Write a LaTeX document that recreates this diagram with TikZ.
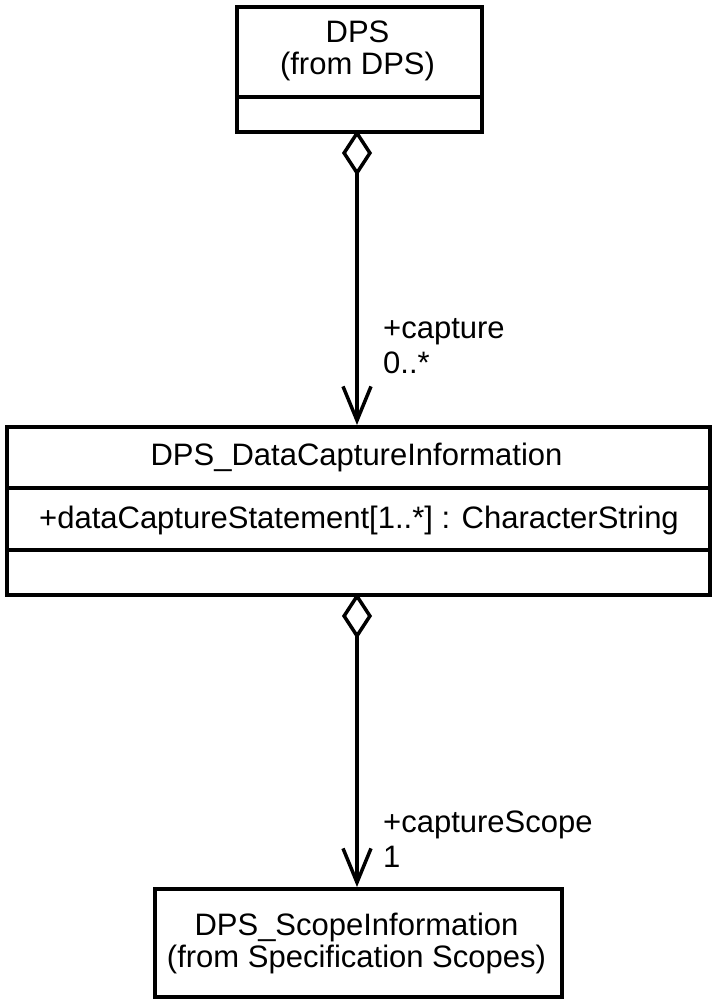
\documentclass[tikz,border=0pt]{standalone}
\usepackage{fontspec}
\setmainfont{Liberation Sans}
\usetikzlibrary{arrows.meta}
\begin{document}
\begin{tikzpicture}[x=1pt,y=-1pt,
  box/.style={draw,line width=3.5pt,rectangle,inner sep=0pt,anchor=north west},
  txt/.style={inner sep=0pt,anchor=base,font=\fontsize{31}{34}\selectfont},
  lbl/.style={inner sep=0pt,anchor=base west,font=\fontsize{31}{35}\selectfont},
  assoc/.style={line width=3.5pt,{Diamond[open,length=46pt,width=30pt,line width=3.5pt]}-{Straight Barb[length=34pt,width=28pt,line width=3.5pt]}}]
\useasboundingbox (0,0) rectangle (716,999);
% DPS box
\node[box,minimum width=245pt,minimum height=125pt] (dps) at (235,5) {};
\draw[line width=3.5pt] (235,97) -- (480,97);
\node[txt] (dpsA) at (357.5,42) {DPS};
\node[txt] (dpsB) at (357.5,74) {(from DPS)};
% middle box
\node[box,minimum width=703pt,minimum height=168pt] (dci) at (5,425) {};
\draw[line width=3.5pt] (5,488) -- (708,488);
\draw[line width=3.5pt] (5,550) -- (708,550);
\node[txt] (dciA) at (356.5,465) {DPS\_DataCaptureInformation};
\node[txt,anchor=base west] (dciB) at (39,528) {+dataCaptureStatement[1..*] : CharacterString};
% bottom box
\node[box,minimum width=407pt,minimum height=108pt] (dsi) at (153,887) {};
\node[txt] (dsiA) at (356.5,935) {DPS\_ScopeInformation};
\node[txt] (dsiB) at (356.5,967) {(from Specification Scopes)};
% connectors
\coordinate (t1) at (357,130);
\coordinate (h1) at (357,425);
\coordinate (t2) at (357,593);
\coordinate (h2) at (357,887);
\draw[assoc] (t1) -- (h1);
\draw[assoc] (t2) -- (h2);
\node[lbl] (l1a) at (383,338) {+capture};
\node[lbl] (l1b) at (383,373) {0..*};
\node[lbl] (l2a) at (383,832) {+captureScope};
\node[lbl] (l2b) at (383,867) {1};
\end{tikzpicture}
\end{document}
